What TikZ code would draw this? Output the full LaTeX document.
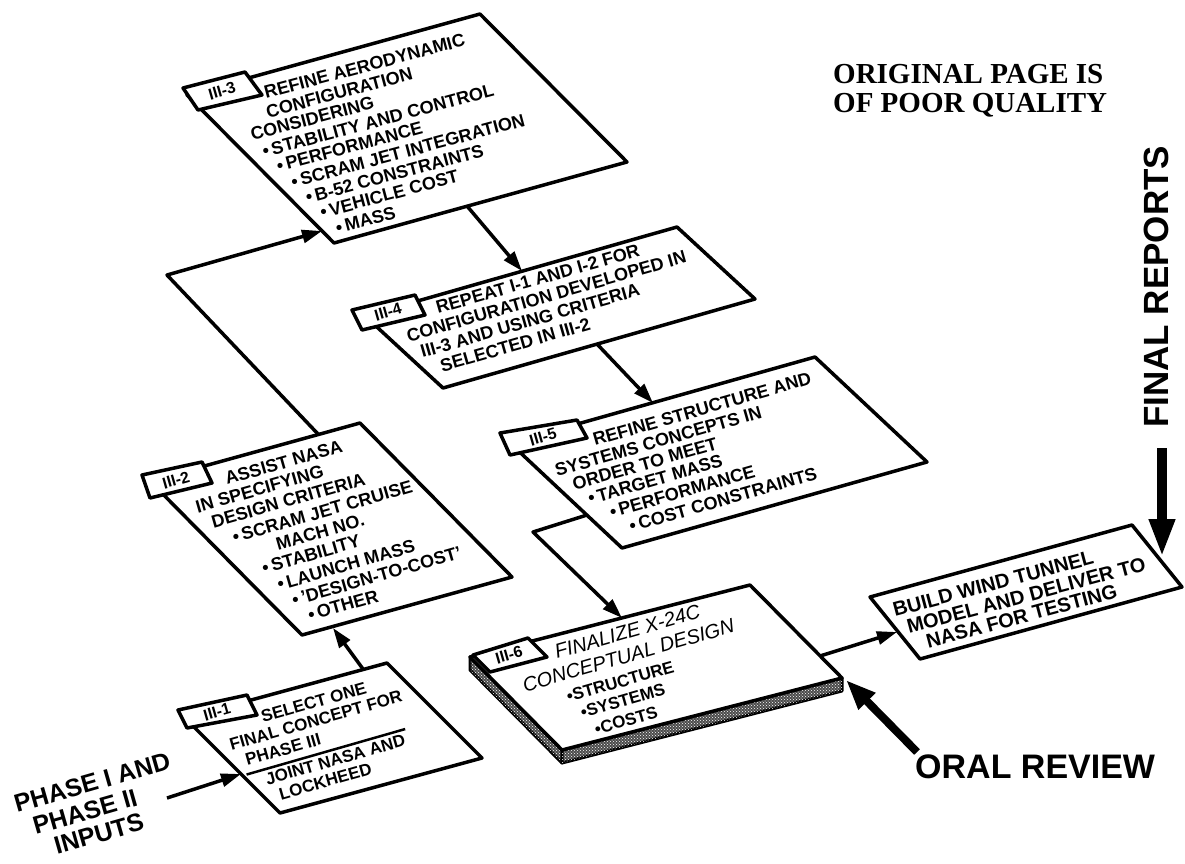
\documentclass[tikz,border=0pt]{standalone}
\usepackage{fontspec}
\setmainfont{Liberation Sans}
\newfontfamily\notefont{Liberation Serif}
\usetikzlibrary{arrows.meta, patterns}

\tikzset{
  box/.style={line width=3.5pt, line join=round, fill=white},
  slab/.style={line width=3pt, line join=round, fill=black!70,
    postaction={pattern=crosshatch dots, pattern color=white}},
  hand/.style={font=\bfseries\fontsize{18}{19}\selectfont, rotate=16, anchor=base west, inner sep=0pt},
  tabtext/.style={font=\bfseries\fontsize{16}{16}\selectfont, rotate=16, inner sep=0pt},
  flow/.style={line width=3.5pt, line join=round, -{Triangle[length=20pt,width=13pt]}},
  bigflow/.style={line width=8pt, -{Triangle[length=30pt,width=22pt]}},
  callout/.style={font=\bfseries\fontsize{34}{34}\selectfont, inner sep=0pt, anchor=base west},
}

\begin{document}
\begin{tikzpicture}[x=1pt, y=-1pt]
\useasboundingbox (0,0) rectangle (1185,863);

% Box III-3
\coordinate (b3) at (187,95);
\draw[box] (b3) -- ++(293,-81) -- ++(147,148) -- ++(-293,81) -- cycle;
\draw[box] (183,88) -- (245,72) -- (262,95) -- (198,110) -- cycle;
\node[tabtext] (tab3) at (222,91) {III-3};
\begin{scope}[shift={(266,99)}, rotate=15]
  \foreach \a/\b/\txt [count=\i] in {0/0/{REFINE AERODYNAMIC}, -3/19/CONFIGURATION,
      -24/37/CONSIDERING, -17/56/{\textbullet\,STABILITY AND CONTROL},
      -7/74/{\textbullet\,PERFORMANCE}, 3/93/{\textbullet\,SCRAM JET INTEGRATION},
      13/112/{\textbullet\,B-52 CONSTRAINTS}, 23/130/{\textbullet\,VEHICLE COST},
      34/149/{\textbullet\,MASS}}
    \node[hand, rotate=-1] (l3-\i) at (\a,\b) {\txt};
\end{scope}

% Box III-2
\coordinate (b2) at (150,481);
\draw[box] (b2) -- ++(210,-58) -- ++(152,154) -- ++(-210,58) -- cycle;
\draw[box] (142,475) -- (202,462) -- (212,483) -- (150,498) -- cycle;
\node[tabtext] (tab2) at (176,480) {III-2};
\begin{scope}[shift={(227,485)}, rotate=16]
  \foreach \a/\b/\txt [count=\i] in {0/0/{ASSIST NASA}, -36/19/{IN SPECIFYING},
      -25/38/{DESIGN CRITERIA}, -9/58/{\textbullet\,SCRAM JET CRUISE},
      31/77/{MACH NO.}, 11/96/{\textbullet\,STABILITY},
      21/116/{\textbullet\,LAUNCH MASS}, 31/135/{\textbullet\,'DESIGN-TO-COST'},
      42/154/{\textbullet\,OTHER}}
    \node[hand] (l2-\i) at (\a,\b) {\txt};
\end{scope}

% Box III-1
\coordinate (b1) at (185,718);
\draw[box] (b1) -- ++(202,-55) -- ++(95,95) -- ++(-202,55) -- cycle;
\draw[box] (178,710) -- (247,695) -- (257,715) -- (187,728) -- cycle;
\node[tabtext] (tab1) at (217,712) {III-1};
\begin{scope}[shift={(263,723)}, rotate=16]
  \foreach \a/\b/\txt [count=\i] in {0/0/{SELECT ONE}, -38/18/{FINAL CONCEPT FOR},
      -27/37/{PHASE III}, -13/61/{JOINT NASA AND}, -4/79/LOCKHEED}
    \node[hand, font=\bfseries\fontsize{17}{17}\selectfont] (l1-\i) at (\a,\b) {\txt};
  \draw[line width=2.5pt] (-30,45) -- (135,45);
\end{scope}

% Box III-4
\coordinate (b4) at (365,316);
\draw[box] (b4) -- ++(312,-89) -- ++(78,72) -- ++(-312,89) -- cycle;
\draw[box] (352,310) -- (415,295) -- (425,315) -- (362,330) -- cycle;
\node[tabtext] (tab4) at (388,312) {III-4};
\begin{scope}[shift={(438,314)}, rotate=16]
  \foreach \a/\b/\txt [count=\i] in {0/0/{REPEAT I-1 AND I-2 FOR},
      -36/19/{CONFIGURATION DEVELOPED IN}, -27/38/{III-3 AND USING CRITERIA},
      -12/57/{SELECTED IN III-2}}
    \node[hand] (l4-\i) at (\a,\b) {\txt};
\end{scope}

% Box III-5
\coordinate (b5) at (510,443);
\draw[box] (b5) -- ++(305,-86) -- ++(112,105) -- ++(-305,86) -- cycle;
\draw[box] (500,433) -- (577,420) -- (587,438) -- (510,455) -- cycle;
\node[tabtext] (tab5) at (543,437) {III-5};
\begin{scope}[shift={(595,446)}, rotate=16]
  \foreach \a/\b/\txt [count=\i] in {0/0/{REFINE STRUCTURE AND},
      -45/19/{SYSTEMS CONCEPTS IN}, -32/37/{ORDER TO MEET},
      -21/55/{\textbullet\,TARGET MASS}, -4/74/{\textbullet\,PERFORMANCE},
      11/93/{\textbullet\,COST CONSTRAINTS}}
    \node[hand] (l5-\i) at (\a,\b) {\txt};
\end{scope}

% Box III-6 (slab)
\coordinate (b6) at (470,657);
\draw[slab] (b6) -- ++(92,93) -- ++(0,13) -- ++(-92,-93) -- cycle;
\draw[slab] (562,750) -- ++(280,-72) -- ++(0,13) -- ++(-280,72) -- cycle;
\draw[box] (b6) -- ++(280,-72) -- ++(92,93) -- ++(-280,72) -- cycle;
\draw[box] (473,655) -- (528,638) -- (547,657) -- (490,672) -- cycle;
\node[tabtext] (tab6) at (509,655) {III-6};
\begin{scope}[shift={(557,659)}, rotate=16]
  \node[hand, font=\itshape\fontsize{20}{20}\selectfont] (l6-1) at (0,0) {FINALIZE X-24C};
  \node[hand, font=\itshape\fontsize{20}{20}\selectfont] (l6-2) at (-40,23) {CONCEPTUAL DESIGN};
  \foreach \a/\b/\txt [count=\i] in {-1/45/STRUCTURE, 8/64/SYSTEMS, 17/84/COSTS}
    \node[hand, font=\bfseries\fontsize{17}{17}\selectfont] (l6b-\i) at (\a,\b) {\textbullet\txt};
\end{scope}

% Wind tunnel box
\coordinate (b7) at (870,597);
\draw[box] (b7) -- ++(262,-72) -- ++(50,62) -- ++(-262,72) -- cycle;
\begin{scope}[shift={(895,617)}, rotate=15]
  \foreach \a/\b/\txt [count=\i] in {0/0/{BUILD WIND TUNNEL},
      9/20/{MODEL AND DELIVER TO}, 24/39/{NASA FOR TESTING}}
    \node[hand, rotate=-1, font=\bfseries\fontsize{20}{20}\selectfont] (l7-\i) at (\a,\b) {\txt};
\end{scope}

% Inputs
\begin{scope}[shift={(17,813)}, rotate=16]
  \foreach \a/\b/\txt [count=\i] in {0/0/{PHASE I AND}, 12/26/{PHASE II}, 27/51/INPUTS}
    \node[hand, font=\bfseries\fontsize{25}{25}\selectfont] (in-\i) at (\a,\b) {\txt};
\end{scope}

% Connectors
\coordinate (c0s) at (167,798);  \coordinate (c0e) at (241,774);
\coordinate (c1s) at (363,669);  \coordinate (c1e) at (333,628);
\coordinate (c2s) at (318,434);  \coordinate (c2m) at (167,275);  \coordinate (c2e) at (322,231);
\coordinate (c3s) at (467,206);  \coordinate (c3e) at (522,271);
\coordinate (c4s) at (597,344);  \coordinate (c4e) at (653,403);
\coordinate (c5s) at (587,515);  \coordinate (c5m) at (533,532);  \coordinate (c5e) at (622,618);
\coordinate (c6s) at (820,656);  \coordinate (c6e) at (897,632);
\draw[flow] (c0s) -- (c0e);
\draw[flow] (c1s) -- (c1e);
\draw[flow] (c2s) -- (c2m) -- (c2e);
\draw[flow] (c3s) -- (c3e);
\draw[flow] (c4s) -- (c4e);
\draw[flow] (c5s) -- (c5m) -- (c5e);
\draw[flow] (c6s) -- (c6e);

% Reviews and reports
\node[callout] (oral) at (915,778) {ORAL REVIEW};
\coordinate (oralfoot) at (917,752);  \coordinate (oraltip) at (846,680);
\draw[bigflow] (oralfoot) -- (oraltip);
\node[callout, font=\bfseries\fontsize{35}{35}\selectfont, rotate=90] (final) at (1168,428) {FINAL REPORTS};
\coordinate (finalfoot) at (1162,448);  \coordinate (finaltip) at (1162,557);
\draw[bigflow, line width=10pt, -{Triangle[length=38pt,width=24pt]}] (finalfoot) -- (finaltip);

% Note
\node[font=\notefont\bfseries\fontsize{29}{29}\selectfont, align=left, anchor=north west, inner sep=0pt]
  (note) at (833,64) {ORIGINAL PAGE IS\\OF POOR QUALITY};
\end{tikzpicture}
\end{document}
